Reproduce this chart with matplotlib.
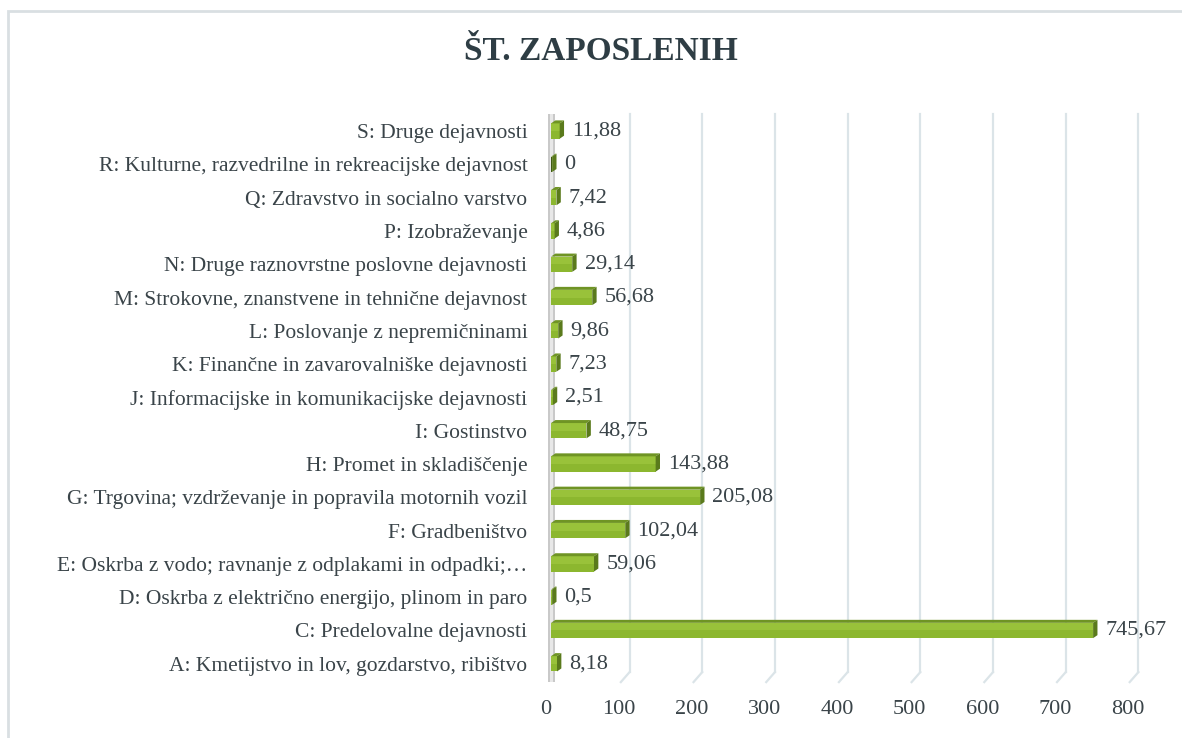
import numpy as np
import matplotlib.pyplot as plt
from matplotlib.patches import Rectangle, Polygon
from matplotlib.transforms import ScaledTranslation

# Employment by activity (bottom to top)
categories = [
    "A: Kmetijstvo in lov, gozdarstvo, ribištvo",
    "C: Predelovalne dejavnosti",
    "D: Oskrba z električno energijo, plinom in paro",
    "E: Oskrba z vodo; ravnanje z odplakami in odpadki;…",
    "F: Gradbeništvo",
    "G: Trgovina; vzdrževanje in popravila motornih vozil",
    "H: Promet in skladiščenje",
    "I: Gostinstvo",
    "J: Informacijske in komunikacijske dejavnosti",
    "K: Finančne in zavarovalniške dejavnosti",
    "L: Poslovanje z nepremičninami",
    "M: Strokovne, znanstvene in tehnične dejavnost",
    "N: Druge raznovrstne poslovne dejavnosti",
    "P: Izobraževanje",
    "Q: Zdravstvo in socialno varstvo",
    "R: Kulturne, razvedrilne in rekreacijske dejavnost",
    "S: Druge dejavnosti",
]
values = [8.18, 745.67, 0.5, 59.06, 102.04, 205.08, 143.88, 48.75, 2.51,
          7.23, 9.86, 56.68, 29.14, 4.86, 7.42, 0, 11.88]
ticks = [0, 100, 200, 300, 400, 500, 600, 700, 800]

plt.rcParams['font.family'] = ['Liberation Serif', 'DejaVu Serif']
text_col = '#3a4449'

fig = plt.figure(figsize=(11.82, 7.38), dpi=100)
fig.patches.append(Rectangle((8 / 1182, -0.1), 1.2, 1 - 11 / 738 + 0.1,
                             transform=fig.transFigure, fill=False,
                             edgecolor='#d9dfe2', linewidth=2))
fig.text(0.508, 0.93, "ŠT. ZAPOSLENIH", ha='center', va='center',
         fontsize=24, fontweight='bold', color='#2e3d44')

ax = fig.add_axes([0.4662, 0.078, 0.492, 0.767])
ax.set_xlim(0, 800)
ax.set_ylim(-0.5, len(categories) - 0.5)

y = np.arange(len(categories))
h = 0.46
depth_x = 6.0   # 3d offset in data units
depth_y = 0.09

# grid lines with a short receding floor segment
for t in ticks[1:]:
    ax.plot([t + 8, t + 8], [-0.25, 16.5], color='#dbe4e8', lw=1.6,
            zorder=0, clip_on=False)
    ax.plot([t + 8, t - 4], [-0.25, -0.55], color='#dbe4e8', lw=1.6,
            zorder=0, clip_on=False)

# back wall on the left
ax.add_patch(Rectangle((-4, -0.55), 10, 17.05, facecolor='#c9c9c9',
                       edgecolor='none', zorder=1, clip_on=False))
ax.add_patch(Rectangle((-1, -0.55), 4, 17.05, facecolor='#e8e8e8',
                       edgecolor='none', zorder=1, clip_on=False))

for yi, v in zip(y, values):
    w = max(v, 1.5)
    col = '#8cb72f' if v > 0 else '#3f5a14'
    # front face
    ax.add_patch(Rectangle((0, yi - h / 2), w, h, facecolor=col,
                           edgecolor='none', zorder=3))
    # lighter upper half
    ax.add_patch(Rectangle((0, yi), w, h / 2, facecolor='#99c23a' if v > 0 else col,
                           edgecolor='none', zorder=3))
    # top face
    ax.add_patch(Polygon([(0, yi + h / 2), (w, yi + h / 2),
                          (w + depth_x, yi + h / 2 + depth_y),
                          (depth_x, yi + h / 2 + depth_y)],
                         closed=True, facecolor='#6f9424', edgecolor='none',
                         zorder=3))
    # end cap
    ax.add_patch(Polygon([(w, yi - h / 2), (w + depth_x, yi - h / 2 + depth_y),
                          (w + depth_x, yi + h / 2 + depth_y), (w, yi + h / 2)],
                         closed=True, facecolor='#5a7a1c', edgecolor='none',
                         zorder=3))
    lbl = f"{v:g}".replace('.', ',')
    ax.text(w + 17, yi, lbl, va='center', ha='left', fontsize=16,
            color=text_col)

ax.set_yticks(y)
ax.set_yticklabels(categories, fontsize=15.5, color=text_col)

# x tick labels sit slightly left of their grid lines (perspective floor)
ax.set_xticks(ticks)
ax.set_xticklabels([])
shift = ScaledTranslation(-5 / 100, 0, fig.dpi_scale_trans)
for t in ticks:
    ax.text(t, -0.052, str(t), transform=ax.get_xaxis_transform() + shift,
            ha='center', va='center', fontsize=16, color=text_col)

ax.tick_params(axis='both', length=0)
ax.tick_params(axis='y', pad=17)
for s in ax.spines.values():
    s.set_visible(False)
ax.patch.set_alpha(0)

plt.savefig('out.png', dpi=100)
